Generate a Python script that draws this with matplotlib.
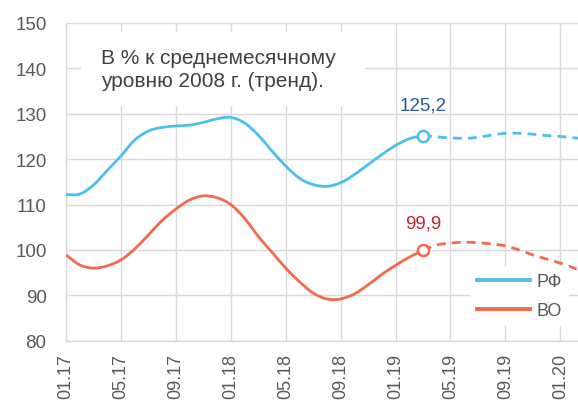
import matplotlib
matplotlib.use("Agg")
import matplotlib.pyplot as plt
from matplotlib.path import Path
from matplotlib.patches import PathPatch, Rectangle
from matplotlib.lines import Line2D
import numpy as np

# ---- data (monthly, index 0 = 01.17) ----
tick_labels = ["01.17", "05.17", "09.17", "01.18", "05.18", "09.18",
               "01.19", "05.19", "09.19", "01.20"]
rf_actual = [112.2, 112.3, 114.3, 117.5, 120.7, 124.2, 126.2, 127.0, 127.3,
             127.5, 128.1, 128.9, 129.2, 128.0, 125.3, 121.8, 118.5, 115.8,
             114.4, 114.0, 114.8, 116.6, 118.8, 121.0, 123.0, 124.5, 125.2]
rf_forecast = [125.2, 124.9, 124.7, 124.6, 124.8, 125.3, 125.7, 125.7, 125.5,
               125.2, 125.0, 124.7, 124.5]
vo_actual = [98.9, 96.7, 96.0, 96.5, 97.8, 100.2, 103.3, 106.5, 109.0, 111.0,
             111.9, 111.5, 110.0, 107.0, 103.0, 99.5, 96.0, 93.0, 90.5, 89.2,
             89.2, 90.3, 92.3, 94.6, 96.6, 98.4, 99.9]
vo_forecast = [99.9, 101.1, 101.5, 101.7, 101.6, 101.3, 100.9, 100.0, 98.9,
               98.0, 97.1, 96.0, 94.8]
series_names = ["РФ", "ВО"]
last_labels = ["125,2", "99,9"]
note_lines = ["В % к среднемесячному", "уровню 2008 г. (тренд)."]

BLUE = "#4DBFEA"
RED = "#F26A4F"
GRID = "#D9D9D9"
TICK = "#595959"

plt.rcParams['font.family'] = ['Liberation Sans', 'DejaVu Sans']

W, H = 578, 402
fig = plt.figure(figsize=(W/100, H/100), dpi=100)
ax = fig.add_axes([66/W, 1-341.7/H, 1-66/W, (341.7-24)/H])


def smooth_path(xs, ys):
    """Excel-like smoothed line: Catmull-Rom converted to cubic Bezier."""
    xs = np.asarray(xs, float)
    ys = np.asarray(ys, float)
    pts = np.column_stack([xs, ys])
    verts = [pts[0]]
    codes = [Path.MOVETO]
    n = len(pts)
    for i in range(n - 1):
        p0 = pts[i - 1] if i > 0 else pts[i]
        p1 = pts[i]
        p2 = pts[i + 1]
        p3 = pts[i + 2] if i + 2 < n else pts[i + 1]
        c1 = p1 + (p2 - p0) / 6.0
        c2 = p2 - (p3 - p1) / 6.0
        verts += [c1, c2, p2]
        codes += [Path.CURVE4] * 3
    return Path(verts, codes)


def draw_smooth(xs, ys, color, ls='-'):
    patch = PathPatch(smooth_path(xs, ys), fill=False, edgecolor=color, lw=2.0,
                      linestyle=ls, capstyle='butt', zorder=3)
    ax.add_patch(patch)


n_act = len(rf_actual)
x_act = np.arange(n_act)
x_fc = np.arange(n_act - 1, n_act - 1 + len(rf_forecast))
DASH = (0, (3.2, 2.2))

draw_smooth(x_act, rf_actual, BLUE)
draw_smooth(x_fc, rf_forecast, BLUE, DASH)
draw_smooth(x_act, vo_actual, RED)
draw_smooth(x_fc, vo_forecast, RED, DASH)

ax.plot([x_act[-1]], [rf_actual[-1]], 'o', ms=8, mfc='white', mec=BLUE, mew=1.8, zorder=4)
ax.plot([x_act[-1]], [vo_actual[-1]], 'o', ms=8, mfc='white', mec=RED, mew=1.8, zorder=4)

ax.annotate(last_labels[0], (x_act[-1], rf_actual[-1]), xytext=(0, 22),
            textcoords='offset points', ha='center', va='center',
            color="#2F5597", fontsize=13.5)
ax.annotate(last_labels[1], (x_act[-1], vo_actual[-1]), xytext=(0, 20),
            textcoords='offset points', ha='center', va='center',
            color="#C0272D", fontsize=13.5)

ax.set_xlim(0, (W-66)/13.73)
ax.set_ylim(80, 150)
ax.set_yticks(np.arange(80, 151, 10))
ax.set_xticks(np.arange(0, 4*len(tick_labels), 4))
ax.set_xticklabels(tick_labels, rotation=90)
ax.tick_params(axis='y', length=0, colors=TICK, labelsize=13.5, pad=14)
ax.tick_params(axis='x', length=0, colors=TICK, labelsize=13, pad=9)
ax.grid(True, color=GRID, lw=1.0, zorder=0)
ax.set_axisbelow(True)
for s in ['top', 'right']:
    ax.spines[s].set_visible(False)
for s in ['left', 'bottom']:
    ax.spines[s].set_color(GRID)
    ax.spines[s].set_linewidth(1.0)

# white note box covering gridlines
ax.add_patch(Rectangle((81/W, 1-107/H), (365-81)/W, (107-33)/H,
                       transform=fig.transFigure, fc='white', ec='none',
                       zorder=1.5, clip_on=False))
for txt, base in zip(note_lines, [64, 87.3]):
    fig.text(101/W, 1-base/H, txt, ha='left', va='baseline',
             fontsize=15, color="#404040", zorder=2)

handles = [Line2D([], [], color=BLUE, lw=2.8), Line2D([], [], color=RED, lw=2.8)]
leg = ax.legend(handles, series_names, loc='upper left',
                bbox_to_anchor=((470-66)/512, (341.7-267)/317.7),
                frameon=True, facecolor='white', edgecolor='none', framealpha=1,
                fontsize=13, handlelength=2.95, handletextpad=0.35,
                labelspacing=0.65, borderpad=0.4, borderaxespad=0, fancybox=False)
for t in leg.get_texts():
    t.set_color(TICK)
leg.set_zorder(5)

fig.savefig("out.png", dpi=100)
